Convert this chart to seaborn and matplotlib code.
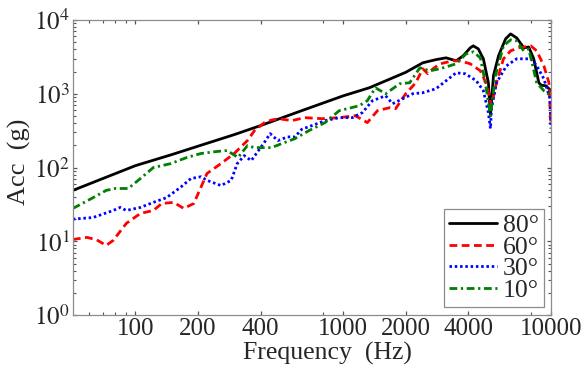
import numpy as np
import pandas as pd
import matplotlib
matplotlib.use("Agg")
import matplotlib.pyplot as plt
import matplotlib.ticker as mticker
import seaborn as sns

# ---------------- data ----------------
f_80 = [50, 100, 150, 204, 300, 400, 632, 1000, 1337, 2000, 2416, 2800, 3128, 3497, 3781,
        4089, 4227, 4471, 4729, 5000, 5116, 5289, 5594, 6050, 6395, 6840, 7230, 7400,
        7815, 8265, 8745, 9000, 9460, 10000]
a_80 = [49, 106, 150, 198, 280, 370, 590, 936, 1205, 1950, 2624, 2900, 3065, 2793, 3265,
        4185, 4454, 4055, 2972, 1408, 504, 1750, 3265, 5535, 6470, 5710, 4600, 4185,
        4300, 2972, 1408, 1300, 1282, 1100]

f_60 = [50, 58.5, 65, 72.3, 78.2, 90.4, 105.7, 122, 134, 153, 171, 191, 221, 258, 299,
        346, 374, 418, 452, 489, 565, 654, 791, 957, 1143, 1307, 1462, 1672, 1788, 2000,
        2235, 2416, 2558, 2705, 2925, 3380, 3656, 4089, 4573, 4888, 5173, 5470, 5910,
        6395, 6995, 8000, 8545, 9245, 9780, 10000]
a_60 = [10.6, 11.3, 10.5, 8.8, 10.3, 17.5, 23.9, 26.2, 32.6, 33.7, 27.9, 32.6, 83, 113, 155,
        232, 316, 406, 440, 459, 432, 474, 459, 474, 504, 406, 589, 647, 627, 1000,
        1408, 2178, 1864, 2178, 2543, 2793, 2793, 2543, 2046, 1365, 688, 1408, 2972,
        3810, 4185, 4454, 3810, 2390, 1408, 380]

f_30 = [50, 62.5, 78.2, 84.5, 90.4, 105.7, 122, 141, 165, 185, 207, 221, 258, 289, 309,
        334, 361, 418, 445, 485, 540, 585, 632, 707, 818, 957, 1107, 1236, 1383, 1600,
        1729, 1933, 2162, 2416, 2798, 3128, 3497, 3870, 4373, 4729, 5000, 5116, 5173,
        5470, 6110, 6840, 8000, 8545, 9245, 9900, 10000]
a_30 = [20, 21, 26.2, 28.8, 26.2, 28.8, 33.7, 39, 54, 71, 75, 67, 57, 67, 113,
        145, 124, 220, 288, 232, 260, 260, 330, 370, 432, 474, 474, 554, 804, 939,
        732, 855, 1000, 1032, 1168, 1499, 1922, 1864, 1499, 1098, 554, 337, 627,
        1408, 2390, 2972, 2972, 2390, 1595, 855, 337]

f_10 = [50, 62.5, 72.3, 80, 92.4, 105.7, 122, 148, 177, 207, 247, 276, 312, 346, 374,
        452, 506, 585, 684, 818, 957, 1196, 1307, 1429, 1600, 1870, 2090, 2339, 2613,
        2925, 3497, 3910, 4227, 4573, 4833, 5116, 5406, 5910, 6395, 6840, 7395, 7815,
        8545, 9245, 10000]
a_10 = [27.9, 39, 49, 52, 52, 71, 100, 113, 137, 155, 165, 170, 137, 198, 186,
        186, 211, 246, 316, 406, 589, 688, 804, 1205, 1000, 1365, 1408, 2246, 2046,
        2178, 2543, 3474, 3697, 3065, 1408, 504, 1750, 4454, 5370, 5200, 3810, 4055,
        1408, 1098, 939]

labels = ["80°", "60°", "30°", "10°"]
x_ticks = [100, 200, 400, 1000, 2000, 4000, 10000]
x_minor = [60, 70, 80, 90, 800, 8000]
y_ticks = [1, 10, 100, 1000, 10000]

# ---------------- style ----------------
sns.set_style("ticks")
plt.rcParams["font.family"] = ["Liberation Serif", "DejaVu Serif"]
plt.rcParams["mathtext.fontset"] = "stix"

fig = plt.figure(figsize=(5.83, 3.69), dpi=100)
ax = fig.add_axes([0.125, 0.146, 0.820, 0.800])

series = [(f_80, a_80), (f_60, a_60), (f_30, a_30), (f_10, a_10)]
colors = ["#000000", "#ff0000", "#0000ff", "#007f00"]
styles = ["-", (0, (2.8, 1.6)), (0, (0.9, 1.0)), (0, (2.8, 1.3, 0.8, 1.3))]

for (fx, ay), lab, c, ls in zip(series, labels, colors, styles):
    df = pd.DataFrame({"f": fx, "a": ay})
    sns.lineplot(data=df, x="f", y="a", ax=ax, color=c, linestyle=ls,
                 linewidth=2.0, label=lab, sort=False, estimator=None)

ax.set_xscale("log")
ax.set_yscale("log")
ax.set_xlim(50, 10000)
ax.set_ylim(1, 10000)

ax.xaxis.set_major_locator(mticker.FixedLocator(x_ticks))
ax.xaxis.set_major_formatter(mticker.FixedFormatter([str(t) for t in x_ticks]))
ax.xaxis.set_minor_locator(mticker.FixedLocator(x_minor))
ax.xaxis.set_minor_formatter(mticker.NullFormatter())
ax.yaxis.set_major_locator(mticker.FixedLocator(y_ticks))
ax.yaxis.set_major_formatter(mticker.FixedFormatter([r"$10^{%d}$" % i for i in range(5)]))
ax.yaxis.set_minor_locator(mticker.LogLocator(base=10, subs=np.arange(2, 10), numticks=20))
ax.yaxis.set_minor_formatter(mticker.NullFormatter())

gray = "#8c8c8c"
for sp in ax.spines.values():
    sp.set_visible(True)
    sp.set_color(gray)
    sp.set_linewidth(0.9)

ax.tick_params(which="both", direction="in", top=True, right=True, color="#555555")
ax.tick_params(which="major", length=3, width=0.9, labelsize=18, pad=2)
ax.tick_params(which="minor", length=2, width=0.8)

ax.set_xlabel("Frequency  (Hz)", fontsize=18.5)
ax.set_ylabel("Acc  (g)", fontsize=19)
ax.xaxis.set_label_coords(0.532, -0.092)
ax.yaxis.set_label_coords(-0.088, 0.52)

leg = ax.legend(loc="lower right", bbox_to_anchor=(0.985, 0.027), borderaxespad=0,
                fontsize=18.5, frameon=True, fancybox=False, framealpha=1,
                edgecolor=gray, handlelength=1.9, handletextpad=0.2,
                labelspacing=-0.05, borderpad=0.2)
leg.get_frame().set_linewidth(0.9)

fig.savefig("out.png", dpi=100)
